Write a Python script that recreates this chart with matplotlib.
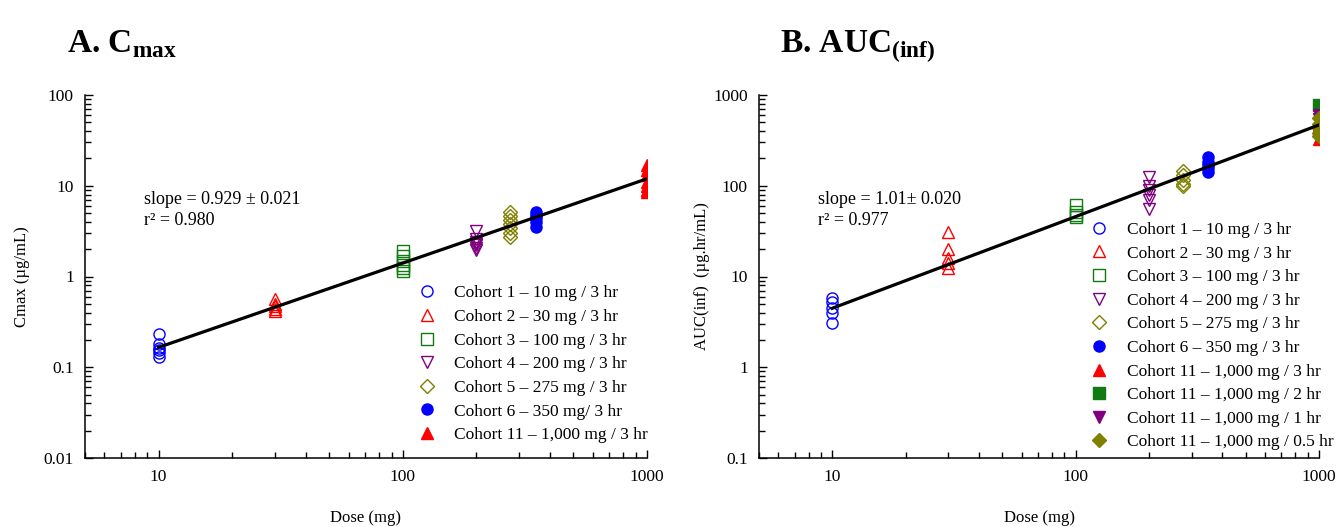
import numpy as np
import matplotlib.pyplot as plt
from matplotlib.lines import Line2D

plt.rcParams['font.family'] = ['Liberation Serif', 'DejaVu Serif']
plt.rcParams['mathtext.fontset'] = 'custom'
plt.rcParams['mathtext.rm'] = 'Liberation Serif'
plt.rcParams['mathtext.bf'] = 'Liberation Serif:bold'

# Panel A: Cmax (ug/mL) by dose (mg)
cmax_c1 = [0.23, 0.18, 0.165, 0.155, 0.145, 0.13]
cmax_c2 = [0.56, 0.50, 0.47, 0.44, 0.42]
cmax_c3 = [1.9, 1.7, 1.5, 1.35, 1.25, 1.15]
cmax_c4 = [3.2, 2.6, 2.4, 2.3, 2.2, 2.05, 1.95]
cmax_c5 = [5.1, 4.6, 4.2, 3.8, 3.4, 3.0, 2.7]
cmax_c6 = [5.2, 4.8, 4.4, 4.0, 3.5]
cmax_c11 = [17, 15, 13, 11, 10, 9, 8.5]

# Panel B: AUC(inf) (ug.hr/mL) by dose (mg)
auc_c1 = [5.8, 5.2, 4.5, 4.0, 3.1]
auc_c2 = [31, 20, 16, 14, 12.5]
auc_c3 = [62, 52, 48, 45]
auc_c4 = [125, 100, 90, 80, 70, 55]
auc_c5 = [145, 130, 115, 105, 100]
auc_c6 = [205, 185, 170, 155, 140]
auc_c11_3h = [470, 400, 330]
auc_c11_2h = [780]
auc_c11_1h = [600, 550]
auc_c11_05h = [560, 480, 430, 380, 350]

# power-model fits: log10(y) = intercept + slope * log10(dose)
fit_cmax = (-1.71, 0.929)
fit_auc = (-0.36, 1.01)
fit_dose = [10, 1000]

BLUE, RED, GREEN, PURPLE, OLIVE = '#0000ff', '#ff0000', '#117a11', '#800080', '#808000'

cmax_series = [
    (10, cmax_c1, 'o', BLUE, False, 'Cohort 1 \u2013 10 mg / 3 hr'),
    (30, cmax_c2, '^', RED, False, 'Cohort 2 \u2013 30 mg / 3 hr'),
    (100, cmax_c3, 's', GREEN, False, 'Cohort 3 \u2013 100 mg / 3 hr'),
    (200, cmax_c4, 'v', PURPLE, False, 'Cohort 4 \u2013 200 mg / 3 hr'),
    (275, cmax_c5, 'D', OLIVE, False, 'Cohort 5 \u2013 275 mg / 3 hr'),
    (350, cmax_c6, 'o', BLUE, True, 'Cohort 6 \u2013 350 mg/ 3 hr'),
    (1000, cmax_c11, '^', RED, True, 'Cohort 11 \u2013 1,000 mg / 3 hr'),
]
auc_series = [
    (10, auc_c1, 'o', BLUE, False, 'Cohort 1 \u2013 10 mg / 3 hr'),
    (30, auc_c2, '^', RED, False, 'Cohort 2 \u2013 30 mg / 3 hr'),
    (100, auc_c3, 's', GREEN, False, 'Cohort 3 \u2013 100 mg / 3 hr'),
    (200, auc_c4, 'v', PURPLE, False, 'Cohort 4 \u2013 200 mg / 3 hr'),
    (275, auc_c5, 'D', OLIVE, False, 'Cohort 5 \u2013 275 mg / 3 hr'),
    (350, auc_c6, 'o', BLUE, True, 'Cohort 6 \u2013 350 mg / 3 hr'),
    (1000, auc_c11_3h, '^', RED, True, 'Cohort 11 \u2013 1,000 mg / 3 hr'),
    (1000, auc_c11_2h, 's', GREEN, True, 'Cohort 11 \u2013 1,000 mg / 2 hr'),
    (1000, auc_c11_1h, 'v', PURPLE, True, 'Cohort 11 \u2013 1,000 mg / 1 hr'),
    (1000, auc_c11_05h, 'D', OLIVE, True, 'Cohort 11 \u2013 1,000 mg / 0.5 hr'),
]


def draw_panel(ax, series, fit, ylim, ylabel, ylabelpad, stats, legend_anchor):
    handles = []
    for dose, vals, mk, col, filled, lab in series:
        ms = 7.5 if mk == 'D' else 8
        ax.plot([dose] * len(vals), vals, linestyle='none', marker=mk, ms=ms,
                mec=col, mfc=col if filled else 'none', mew=1.0, zorder=3)
        handles.append(Line2D([], [], linestyle='none', marker=mk, ms=ms,
                              mec=col, mfc=col if filled else 'none', mew=1.0, label=lab))
    xs = np.array(fit_dose, dtype=float)
    ax.plot(xs, 10 ** (fit[0] + fit[1] * np.log10(xs)), color='black', lw=2.3, zorder=4)

    ax.set_xscale('log')
    ax.set_yscale('log')
    ax.set_xlim(5, 1000)
    ax.set_ylim(*ylim)
    ax.set_xticks([10, 100, 1000])
    ax.set_xticklabels(['10', '100', '1000'])
    yt = [10.0 ** k for k in range(int(np.log10(ylim[0])), int(np.log10(ylim[1])) + 1)]
    ax.set_yticks(yt)
    ax.set_yticklabels([('%g' % v) for v in yt])
    for s in ['top', 'right']:
        ax.spines[s].set_visible(False)
    for s in ['left', 'bottom']:
        ax.spines[s].set_linewidth(1.1)
    ax.tick_params(which='major', direction='in', length=6, width=1.0, labelsize=12.5, pad=8)
    ax.tick_params(which='minor', direction='in', length=4, width=1.0)
    ax.set_xlabel('Dose (mg)', fontsize=12, labelpad=18)
    ax.set_ylabel(ylabel, fontsize=12, labelpad=ylabelpad)
    ax.text(0.105, 0.63, stats, transform=ax.transAxes, fontsize=13, va='bottom',
            linespacing=1.3)
    ax.legend(handles=handles, loc='upper left', bbox_to_anchor=legend_anchor,
              frameon=False, fontsize=12.5, handlelength=1.0, handletextpad=1.1,
              labelspacing=0.43, borderaxespad=0)


fig = plt.figure(figsize=(13.38, 5.27), dpi=100)
ax1 = fig.add_axes([85 / 1338, 69 / 527, 562 / 1338, 363 / 527])
ax2 = fig.add_axes([759 / 1338, 69 / 527, 560 / 1338, 363 / 527])

draw_panel(ax1, cmax_series, fit_cmax, (0.01, 100), 'Cmax (\u00b5g/mL)', 10,
           'slope = 0.929 \u00b1 0.021\nr\u00b2 = 0.980', (0.58, 0.495))
draw_panel(ax2, auc_series, fit_auc, (0.1, 1000), 'AUC(inf)  (\u00b5g.hr/mL)', 2,
           'slope = 1.01\u00b1 0.020\nr\u00b2 = 0.977', (0.58, 0.67))

fig.text(67 / 1338, 1 - 52 / 527, r'A. C$_{\mathbf{max}}$', fontsize=24, fontweight='bold')
fig.text(780 / 1338, 1 - 52 / 527, r'B. AUC$_{\mathbf{(inf)}}$', fontsize=24, fontweight='bold')

fig.savefig('out.png', dpi=100)
